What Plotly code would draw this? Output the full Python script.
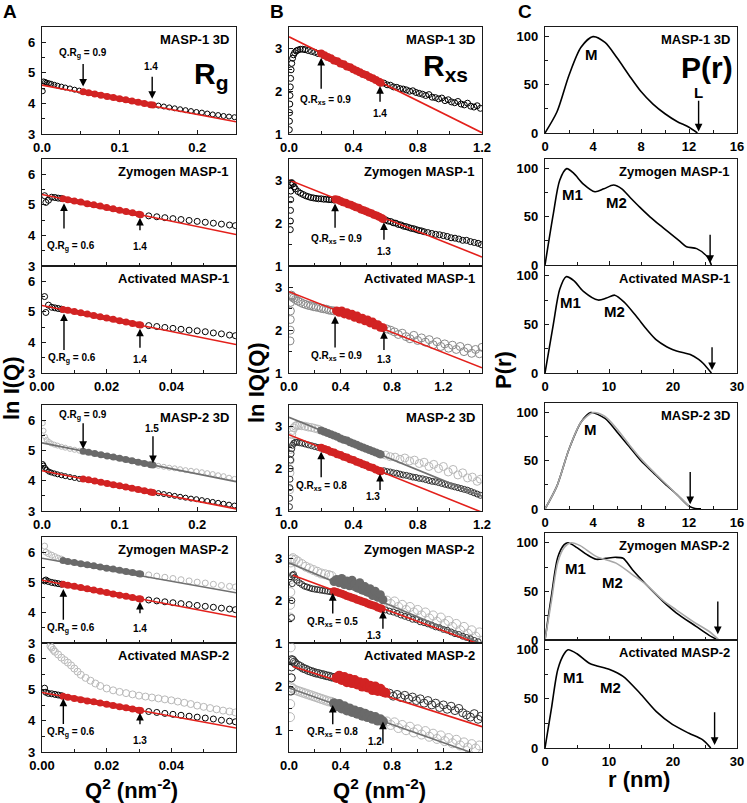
import plotly.graph_objects as go

W, H = 747, 803
FONT = "Liberation Sans"
RED = "#e3201b"
RED_BAND = "#d22323"
GRAY_LINE = "#707070"
GRAY_BAND = "#6a6a6a"
LIGHT = "#b9b9b9"

TITLES = ["MASP-1 3D", "Zymogen MASP-1", "Activated MASP-1",
          "MASP-2 3D", "Zymogen MASP-2", "Activated MASP-2"]

# ---------------- Column A : ln I(Q) vs Q^2 (Rg) ----------------
A_BIG_Q2 = [0.001, 0.002, 0.004, 0.006, 0.009, 0.012, 0.016, 0.020, 0.025, 0.030, 0.036, 0.042, 0.048,
            0.053, 0.060, 0.068, 0.076, 0.084, 0.092, 0.100, 0.108, 0.116, 0.124, 0.132, 0.140, 0.143,
            0.150, 0.157, 0.164, 0.171, 0.178, 0.185, 0.192, 0.199, 0.206, 0.213, 0.220, 0.227, 0.234, 0.241, 0.248]
A_SMALL_Q2 = [0.0008, 0.0012, 0.002, 0.003, 0.004, 0.005, 0.006,
              0.0065, 0.008, 0.010, 0.012, 0.014, 0.016, 0.018, 0.020, 0.022, 0.024, 0.026, 0.028, 0.030, 0.0305,
              0.033, 0.0355, 0.038, 0.0405, 0.043, 0.0455, 0.048, 0.0505, 0.053, 0.0555, 0.058, 0.0598]
A_FIT_BIG = [0.053, 0.143]
A_FIT_SMALL = [0.0065, 0.0305]

A1_BLACK = [4.40, 4.72, 4.70, 4.68, 4.66, 4.64, 4.61, 4.58, 4.55, 4.52, 4.49, 4.45, 4.42,
            4.38, 4.35, 4.31, 4.27, 4.23, 4.19, 4.15, 4.12, 4.08, 4.04, 4.00, 3.96, 3.95,
            3.93, 3.90, 3.87, 3.84, 3.81, 3.78, 3.75, 3.72, 3.70, 3.67, 3.64, 3.62, 3.59, 3.57, 3.55]
A1_LINE = [4.60, 3.40]

A2_BLACK = [5.30, 5.08, 5.15, 5.25, 5.24, 5.22, 5.21,
            5.20, 5.17, 5.13, 5.09, 5.04, 5.00, 4.96, 4.91, 4.87, 4.82, 4.78, 4.74, 4.69, 4.68,
            4.64, 4.61, 4.58, 4.55, 4.52, 4.49, 4.46, 4.43, 4.40, 4.37, 4.34, 4.32]
A2_LINE = [5.34, 4.03]

A3_BLACK = [5.50, 4.98, 5.22, 5.15, 5.13, 5.11, 5.09,
            5.08, 5.05, 5.01, 4.97, 4.93, 4.88, 4.84, 4.80, 4.76, 4.71, 4.67, 4.62, 4.58, 4.57,
            4.55, 4.52, 4.49, 4.46, 4.43, 4.40, 4.38, 4.35, 4.31, 4.28, 4.24, 4.22]
A3_LINE = [5.21, 3.93]

A4_GRAY = [5.90, 5.65, 5.45, 5.35, 5.28, 5.23, 5.19, 5.16, 5.12, 5.09, 5.05, 5.02, 4.99,
           4.97, 4.94, 4.90, 4.86, 4.82, 4.78, 4.74, 4.70, 4.66, 4.61, 4.57, 4.53, 4.52,
           4.49, 4.46, 4.43, 4.41, 4.38, 4.35, 4.33, 4.31, 4.28, 4.25, 4.22, 4.18, 4.15, 4.10, 4.06]
A4_BLACK = [4.55, 4.50, 4.42, 4.36, 4.30, 4.27, 4.24, 4.21, 4.18, 4.15, 4.12, 4.09, 4.06,
            4.06, 4.03, 3.99, 3.95, 3.91, 3.87, 3.83, 3.79, 3.75, 3.71, 3.67, 3.63, 3.61,
            3.59, 3.56, 3.53, 3.50, 3.47, 3.44, 3.41, 3.39, 3.36, 3.33, 3.30, 3.27, 3.24, 3.21, 3.18]
A4_GRAY_LINE = [5.25, 3.97]
A4_RED_LINE = [4.33, 3.07]

A5_GRAY = [6.20, 6.00, 5.95, 5.90, 5.85, 5.80, 5.77,
           5.72, 5.69, 5.66, 5.62, 5.58, 5.55, 5.51, 5.47, 5.44, 5.40, 5.36, 5.33, 5.29, 5.28,
           5.25, 5.21, 5.17, 5.13, 5.09, 5.05, 5.01, 4.98, 4.94, 4.90, 4.87, 4.85]
A5_BLACK = [5.05, 5.08, 5.03, 5.00, 4.98, 4.96, 4.94,
            4.94, 4.91, 4.87, 4.83, 4.79, 4.75, 4.71, 4.67, 4.62, 4.58, 4.54, 4.50, 4.46, 4.45,
            4.42, 4.39, 4.36, 4.33, 4.30, 4.27, 4.24, 4.21, 4.18, 4.15, 4.12, 4.10]
A5_GRAY_LINE = [5.80, 4.66]
A5_RED_LINE = [5.07, 3.86]

A6_BLACK = [5.05, 4.92, 4.88, 4.87, 4.85, 4.83, 4.81,
            4.79, 4.76, 4.72, 4.68, 4.64, 4.61, 4.57, 4.53, 4.49, 4.45, 4.42, 4.38, 4.34, 4.33,
            4.30, 4.27, 4.24, 4.21, 4.18, 4.15, 4.12, 4.09, 4.06, 4.02, 3.99, 3.97]
A6_GRAY_Q2 = [0.0026, 0.003, 0.0035, 0.004, 0.005, 0.006, 0.007, 0.008, 0.009, 0.010, 0.011, 0.012,
              0.0135, 0.015, 0.0165, 0.018, 0.020, 0.022, 0.024, 0.026, 0.028, 0.030, 0.032, 0.034,
              0.036, 0.038, 0.040, 0.042, 0.044, 0.046, 0.048, 0.050, 0.052, 0.054, 0.056, 0.058, 0.0598]
A6_GRAY = [6.40, 6.35, 6.28, 6.22, 6.13, 6.03, 5.95, 5.87, 5.78, 5.68, 5.58, 5.48,
           5.38, 5.29, 5.20, 5.12, 5.04, 4.98, 4.93, 4.89, 4.85, 4.81, 4.78, 4.75,
           4.72, 4.69, 4.66, 4.62, 4.58, 4.54, 4.49, 4.45, 4.41, 4.37, 4.33, 4.30, 4.27]
A6_RED_LINE = [4.91, 3.77]

# ---------------- Column B : ln IQ(Q) vs Q^2 (Rxs) ----------------
B1_Q2 = [0.002, 0.003, 0.004, 0.005, 0.006, 0.008, 0.010, 0.013, 0.017, 0.022, 0.028, 0.035, 0.045, 0.055,
         0.07, 0.085, 0.10, 0.12, 0.14, 0.16, 0.18,
         0.20, 0.22, 0.24, 0.26, 0.28, 0.30, 0.32, 0.34, 0.36, 0.38, 0.40, 0.42, 0.44, 0.46, 0.48, 0.50,
         0.52, 0.54, 0.56, 0.57,
         0.59, 0.61, 0.63, 0.65, 0.67, 0.69, 0.71, 0.73, 0.75, 0.77, 0.79, 0.81, 0.83, 0.85, 0.87, 0.89,
         0.91, 0.93, 0.95, 0.97, 0.99, 1.01, 1.03, 1.05, 1.07, 1.09, 1.11, 1.13, 1.15, 1.17, 1.19]
B1_BLACK = [1.10, 1.30, 1.50, 1.70, 1.90, 2.10, 2.30, 2.50, 2.65, 2.77, 2.85, 2.90, 2.94, 2.96,
            2.98, 2.98, 2.97, 2.95, 2.93, 2.91, 2.88,
            2.88, 2.84, 2.80, 2.77, 2.72, 2.70, 2.65, 2.63, 2.58, 2.56, 2.51, 2.48, 2.44, 2.40, 2.38, 2.33,
            2.30, 2.26, 2.22, 2.20,
            2.19, 2.15, 2.14, 2.10, 2.09, 2.06, 2.05, 2.03, 2.00, 2.01, 1.97, 1.95, 1.93, 1.90, 1.92, 1.86,
            1.85, 1.82, 1.84, 1.78, 1.80, 1.75, 1.73, 1.76, 1.70, 1.68, 1.72, 1.65, 1.63, 1.66, 1.60]
B1_FIT = [0.20, 0.57]
B1_LINE_X = [0.0, 1.2]
B1_LINE = [3.27, 1.03]

B2_Q2 = [0.010, 0.011, 0.012, 0.013, 0.014, 0.016, 0.02, 0.03, 0.04, 0.05, 0.07, 0.09, 0.11, 0.13, 0.15,
         0.17, 0.19, 0.21, 0.23, 0.25, 0.27, 0.29, 0.31, 0.33, 0.35,
         0.36, 0.38, 0.40, 0.42, 0.44, 0.46, 0.48, 0.50, 0.52, 0.54, 0.56, 0.58, 0.60, 0.62, 0.64, 0.66,
         0.68, 0.70, 0.72, 0.73,
         0.75, 0.77, 0.79, 0.81, 0.83, 0.85, 0.87, 0.89, 0.91, 0.93, 0.95, 0.97, 0.99, 1.01, 1.03, 1.05,
         1.08, 1.11, 1.14, 1.17, 1.20, 1.23, 1.26, 1.29, 1.32, 1.35, 1.38, 1.41, 1.44, 1.47, 1.495]
B2_BLACK = [1.85, 2.05, 2.30, 2.55, 2.75, 2.90, 2.95, 2.92, 2.85, 2.80, 2.74, 2.70, 2.67, 2.64, 2.62,
            2.60, 2.59, 2.58, 2.57, 2.57, 2.56, 2.56, 2.55, 2.55, 2.54,
            2.56, 2.55, 2.52, 2.49, 2.48, 2.44, 2.43, 2.40, 2.37, 2.36, 2.32, 2.30, 2.28, 2.25, 2.23, 2.20,
            2.18, 2.15, 2.12, 2.10,
            2.08, 2.05, 2.04, 2.01, 2.00, 1.97, 1.96, 1.93, 1.92, 1.90, 1.88, 1.87, 1.85, 1.83, 1.82, 1.80,
            1.78, 1.76, 1.74, 1.73, 1.71, 1.69, 1.66, 1.65, 1.63, 1.60, 1.60, 1.57, 1.55, 1.53, 1.50]
B2_FIT = [0.36, 0.73]
B2_LINE_X = [0.0, 1.5]
B2_LINE = [3.01, 1.21]

B3_Q2 = [0.008, 0.009, 0.010, 0.011, 0.012, 0.014, 0.018, 0.025, 0.035, 0.05, 0.07, 0.09, 0.11, 0.13, 0.15,
         0.17, 0.19, 0.21, 0.23, 0.25, 0.27, 0.29, 0.31, 0.33, 0.35,
         0.37, 0.39, 0.41, 0.43, 0.45, 0.47, 0.49, 0.51, 0.53, 0.55, 0.57, 0.59, 0.61, 0.63, 0.65, 0.67,
         0.69, 0.71, 0.73,
         0.76, 0.79, 0.82, 0.85, 0.88, 0.91, 0.94, 0.97, 1.00, 1.03, 1.06, 1.09, 1.12, 1.15, 1.18, 1.21,
         1.24, 1.27, 1.30, 1.33, 1.36, 1.39, 1.42, 1.45, 1.48, 1.50]
B3_DATA = [1.75, 2.00, 2.25, 2.45, 2.65, 2.80, 2.82, 2.78, 2.75, 2.72, 2.68, 2.65, 2.62, 2.60, 2.58,
           2.57, 2.55, 2.54, 2.53, 2.51, 2.50, 2.49, 2.47, 2.46, 2.45,
           2.45, 2.42, 2.45, 2.38, 2.41, 2.35, 2.37, 2.30, 2.33, 2.26, 2.28, 2.22, 2.24, 2.17, 2.19, 2.12,
           2.13, 2.07, 2.06,
           2.03, 2.00, 1.96, 1.90, 1.93, 1.85, 1.80, 1.88, 1.76, 1.82, 1.72, 1.78, 1.66, 1.73, 1.62, 1.68,
           1.58, 1.65, 1.55, 1.62, 1.50, 1.58, 1.46, 1.55, 1.45, 1.60]
B3_FIT = [0.37, 0.73]
B3_LINE_X = [0.0, 1.5]
B3_LINE = [2.90, 1.12]

B4_GRAY_Q2 = [0.004, 0.006, 0.008, 0.010, 0.013, 0.017, 0.022, 0.03, 0.04, 0.05, 0.065, 0.08, 0.10, 0.12,
              0.14, 0.16, 0.18,
              0.20, 0.22, 0.24, 0.26, 0.28, 0.30, 0.32, 0.34, 0.36, 0.38, 0.40, 0.42, 0.44, 0.46, 0.48,
              0.50, 0.52, 0.54, 0.56, 0.57,
              0.60, 0.63, 0.66, 0.69, 0.72, 0.75, 0.78, 0.81, 0.84, 0.87, 0.90, 0.93, 0.96, 0.99, 1.02,
              1.05, 1.08, 1.11, 1.14, 1.17, 1.19]
B4_GRAY = [1.50, 1.90, 2.20, 2.45, 2.65, 2.80, 2.90, 2.96, 3.00, 3.02, 3.02, 3.01, 3.00, 2.98,
           2.97, 2.95, 2.93,
           2.90, 2.87, 2.84, 2.81, 2.78, 2.75, 2.71, 2.68, 2.66, 2.62, 2.59, 2.56, 2.53, 2.50, 2.47,
           2.44, 2.41, 2.38, 2.35, 2.33,
           2.32, 2.28, 2.27, 2.22, 2.25, 2.18, 2.20, 2.12, 2.15, 2.05, 2.10, 2.00, 2.05, 1.92, 1.98,
           1.85, 1.90, 1.78, 1.80, 1.70, 1.75]
B4_BLACK_Q2 = [0.003, 0.004, 0.005, 0.006, 0.008, 0.010, 0.013, 0.017, 0.022, 0.03, 0.04, 0.05, 0.065,
               0.08, 0.10, 0.12, 0.14, 0.16, 0.18,
               0.20, 0.22, 0.24, 0.26, 0.28, 0.30, 0.32, 0.34, 0.36, 0.38, 0.40, 0.42, 0.44, 0.46, 0.48,
               0.50, 0.52, 0.54, 0.56, 0.57,
               0.59, 0.61, 0.63, 0.65, 0.67, 0.69, 0.71, 0.73, 0.75, 0.77, 0.79, 0.81, 0.83, 0.85, 0.87,
               0.89, 0.91, 0.93, 0.95, 0.97, 0.99, 1.01, 1.03, 1.05, 1.07, 1.09, 1.11, 1.13, 1.15, 1.17, 1.19]
B4_BLACK = [1.10, 1.30, 1.55, 1.75, 2.00, 2.20, 2.35, 2.47, 2.55, 2.60, 2.62, 2.62, 2.61,
            2.60, 2.58, 2.56, 2.54, 2.52, 2.50,
            2.49, 2.46, 2.44, 2.40, 2.38, 2.34, 2.32, 2.28, 2.26, 2.22, 2.20, 2.16, 2.14, 2.10, 2.08,
            2.04, 2.02, 1.98, 1.95, 1.94,
            1.95, 1.93, 1.92, 1.90, 1.89, 1.87, 1.85, 1.84, 1.82, 1.80, 1.79, 1.77, 1.76, 1.74, 1.72,
            1.70, 1.69, 1.67, 1.65, 1.63, 1.61, 1.59, 1.57, 1.55, 1.53, 1.51, 1.49, 1.46, 1.43, 1.40, 1.37]
B4_FIT = [0.20, 0.57]
B4_LINE_X = [0.0, 1.2]
B4_GRAY_LINE = [3.21, 1.35]
B4_RED_LINE = [2.80, 0.97]

B5_GRAY_Q2 = [0.008, 0.009, 0.010, 0.011, 0.012, 0.014, 0.02, 0.03, 0.05, 0.07, 0.10, 0.13, 0.16, 0.19,
              0.22, 0.25, 0.28, 0.31, 0.33,
              0.35, 0.37, 0.39, 0.41, 0.43, 0.45, 0.47, 0.49, 0.51, 0.53, 0.55, 0.57, 0.59, 0.61, 0.63,
              0.65, 0.67, 0.69, 0.71, 0.73,
              0.76, 0.79, 0.82, 0.85, 0.88, 0.91, 0.94, 0.97, 1.00, 1.03, 1.06, 1.09, 1.12, 1.15, 1.18,
              1.21, 1.24, 1.27, 1.30, 1.33, 1.36, 1.39, 1.42, 1.45, 1.48]
B5_GRAY = [1.60, 1.90, 2.20, 2.50, 2.75, 2.90, 2.97, 3.00, 2.96, 2.92, 2.86, 2.80, 2.76, 2.72,
           2.68, 2.64, 2.62, 2.60, 2.58,
           2.45, 2.50, 2.42, 2.52, 2.38, 2.46, 2.35, 2.48, 2.38, 2.30, 2.42, 2.25, 2.33, 2.20, 2.28,
           2.12, 2.22, 2.08, 2.14, 2.02,
           2.00, 1.92, 1.98, 1.85, 1.90, 1.78, 1.85, 1.72, 1.78, 1.65, 1.72, 1.58, 1.65, 1.50, 1.60,
           1.45, 1.52, 1.38, 1.45, 1.30, 1.38, 1.22, 1.30, 1.15, 1.25]
B5_BLACK_Q2 = [0.020, 0.022, 0.025, 0.028, 0.035, 0.045, 0.06, 0.08, 0.10, 0.12, 0.14, 0.16, 0.18, 0.20,
               0.22, 0.24, 0.26, 0.28, 0.30, 0.32, 0.34,
               0.35, 0.37, 0.39, 0.41, 0.43, 0.45, 0.47, 0.49, 0.51, 0.53, 0.55, 0.57, 0.59, 0.61, 0.63,
               0.65, 0.67, 0.69, 0.71, 0.72,
               0.75, 0.78, 0.81, 0.84, 0.87, 0.90, 0.93, 0.96, 0.99, 1.02, 1.05, 1.08, 1.11, 1.14, 1.17,
               1.20, 1.23, 1.26, 1.29, 1.32, 1.35, 1.38, 1.41, 1.44, 1.47]
B5_BLACK = [1.60, 2.00, 2.40, 2.60, 2.62, 2.55, 2.48, 2.42, 2.38, 2.34, 2.32, 2.30, 2.28, 2.27,
            2.26, 2.25, 2.24, 2.23, 2.22, 2.21, 2.20,
            2.22, 2.20, 2.18, 2.16, 2.14, 2.11, 2.09, 2.07, 2.05, 2.02, 2.00, 1.98, 1.96, 1.93, 1.91,
            1.89, 1.87, 1.84, 1.82, 1.81,
            1.78, 1.75, 1.73, 1.70, 1.66, 1.63, 1.60, 1.56, 1.55, 1.50, 1.48, 1.45, 1.42, 1.38, 1.36,
            1.32, 1.30, 1.26, 1.22, 1.20, 1.16, 1.13, 1.10, 1.06, 1.03]
B5_GRAY_FIT = [0.35, 0.73]
B5_RED_FIT = [0.35, 0.72]
B5_GRAY_LINE_X = [0.0, 1.5]
B5_GRAY_LINE = [2.89, 0.98]
B5_RED_LINE_X = [0.03, 1.5]
B5_RED_LINE = [2.60, 0.95]

B6_BLACK_Q2 = [0.015, 0.018, 0.020, 0.022, 0.03, 0.04, 0.05, 0.07, 0.09, 0.11, 0.13, 0.15, 0.17, 0.19,
               0.21, 0.23, 0.25, 0.27, 0.29, 0.31, 0.33, 0.35,
               0.37, 0.39, 0.41, 0.43, 0.45, 0.47, 0.49, 0.51, 0.53, 0.55, 0.57, 0.59, 0.61, 0.63, 0.65,
               0.67, 0.69, 0.71, 0.73, 0.75,
               0.78, 0.81, 0.84, 0.87, 0.90, 0.93, 0.96, 0.99, 1.02, 1.05, 1.08, 1.11, 1.14, 1.17, 1.20,
               1.23, 1.26, 1.29, 1.32, 1.35, 1.38, 1.41, 1.44, 1.47, 1.49]
B6_BLACK = [1.90, 2.20, 2.45, 2.62, 2.60, 2.56, 2.53, 2.49, 2.46, 2.42, 2.40, 2.37, 2.35, 2.33,
            2.31, 2.30, 2.28, 2.27, 2.25, 2.24, 2.22, 2.21,
            2.20, 2.25, 2.15, 2.22, 2.10, 2.18, 2.08, 2.15, 2.05, 2.10, 2.00, 2.08, 1.98, 2.02, 1.92,
            2.00, 1.90, 1.95, 1.88, 1.86,
            1.85, 1.78, 1.82, 1.75, 1.80, 1.72, 1.76, 1.68, 1.72, 1.62, 1.68, 1.58, 1.62, 1.52, 1.58,
            1.48, 1.55, 1.45, 1.50, 1.40, 1.35, 1.30, 1.38, 1.25, 1.32]
B6_GRAY_Q2 = [0.008, 0.009, 0.010, 0.011, 0.012, 0.013, 0.02, 0.03, 0.05, 0.07, 0.09, 0.11, 0.13, 0.15,
              0.17, 0.19, 0.21, 0.23, 0.25, 0.27, 0.29, 0.31, 0.33,
              0.35, 0.37, 0.39, 0.41, 0.43, 0.45, 0.47, 0.49, 0.51, 0.53, 0.55, 0.57, 0.59, 0.61, 0.63,
              0.65, 0.67, 0.69, 0.71, 0.73,
              0.76, 0.79, 0.82, 0.85, 0.88, 0.91, 0.94, 0.97, 1.00, 1.03, 1.06, 1.09, 1.12, 1.15, 1.18,
              1.21, 1.24, 1.27, 1.30, 1.33, 1.36, 1.39, 1.42, 1.45, 1.48]
B6_GRAY = [1.30, 1.60, 1.90, 2.20, 2.60, 2.90, 1.98, 1.95, 1.92, 1.90, 1.88, 1.86, 1.84, 1.82,
           1.80, 1.78, 1.76, 1.74, 1.72, 1.70, 1.68, 1.66, 1.65,
           1.62, 1.55, 1.60, 1.50, 1.55, 1.45, 1.50, 1.42, 1.45, 1.38, 1.42, 1.33, 1.38, 1.30, 1.33,
           1.26, 1.30, 1.22, 1.25, 1.20,
           1.20, 1.12, 1.18, 1.05, 1.12, 1.00, 1.08, 0.95, 1.02, 0.90, 0.98, 0.85, 0.92, 0.80, 0.88,
           0.75, 0.82, 0.70, 0.78, 0.65, 0.72, 0.60, 0.68, 0.58, 0.65]
B6_RED_FIT = [0.37, 0.75]
B6_GRAY_FIT = [0.35, 0.73]
B6_RED_LINE_X = [0.03, 1.5]
B6_RED_LINE = [2.46, 1.08]
B6_GRAY_LINE_X = [0.0, 1.5]
B6_GRAY_LINE = [1.97, 0.40]

# ---------------- Column C : P(r) curves ----------------
C1_R = [0, 1, 2, 3, 4, 5, 6, 7, 8, 9, 10, 11, 12, 12.7]
C1_P = [0, 22, 60, 89, 100, 94, 78, 60, 43, 30, 20, 12, 6, 0]
C2_R = [0, 1.3, 2.3, 3.4, 4.5, 6, 7.8, 9.2, 10.7, 12, 13.3, 14.8, 16.4, 18, 19.5, 21, 22.1, 23.7, 25.3, 26]
C2_P = [0, 53, 88, 100, 95, 84, 76, 79, 83, 79, 70, 60, 50, 41, 33, 25, 19, 17, 9, 0]
C3_R = [0, 1.3, 2.3, 3.3, 4.5, 6, 8.3, 9.6, 10.9, 12.5, 14.3, 16, 17.4, 19, 20, 21.5, 22.7, 24, 24.7, 26]
C3_P = [0, 50, 86, 99, 95, 84, 75, 77, 80, 72, 58, 44, 34, 27, 24, 21, 19, 14, 10, 0]
C4_BLACK_R = [0, 1, 2, 3, 3.8, 5, 6, 7, 8, 9, 10, 11, 12, 12.5, 13]
C4_BLACK_P = [0, 24, 62, 90, 100, 94, 80, 65, 50, 38, 26, 15, 3, 0.6, 0.3]
C4_GRAY_R = [0, 1, 2, 3, 4, 5, 6, 7, 8, 9, 10, 11, 12]
C4_GRAY_P = [0, 24, 62, 90, 100, 96, 83, 67, 52, 39, 27, 15, 3]
C5_BLACK_R = [0, 1, 2, 3, 3.6, 5, 6.5, 8, 9.5, 11, 12.2, 13.7, 15.8, 18.4, 20.5, 23.6, 25.6, 27]
C5_BLACK_P = [0, 45, 85, 98, 100, 95, 88, 83, 84, 85, 84, 72, 57, 40, 28, 14, 5, 0]
C5_GRAY_R = [0, 1, 2, 3, 4.1, 5.5, 8, 11.1, 13.7, 15.8, 18.4, 20.5, 23.6, 25.6, 27.2]
C5_GRAY_P = [0, 40, 80, 95, 100, 97, 86, 79, 67, 57, 41, 31, 17, 9, 0]
C6_R = [0, 1, 2, 3, 3.6, 5, 7, 10.1, 12.2, 14.8, 17.4, 19.9, 22.5, 24.6, 25.9]
C6_P = [0, 40, 80, 96, 100, 96, 86, 80, 73, 56, 37, 24, 15, 8.5, 0]

# ---------------- layout geometry ----------------
COLS = [(42, 236), (289, 482), (545, 737)]
ROWS_AB = [(27, 134), (159, 266), (266, 373), (405, 511), (537, 643), (643, 752)]
ROWS_C = [(27, 133), (159, 265), (266, 373), (403, 509), (533, 640), (640, 748)]

XR = [[[0, 0.25], [0, 0.06], [0, 0.06], [0, 0.25], [0, 0.06], [0, 0.06]],
      [[0, 1.2], [0, 1.5], [0, 1.5], [0, 1.2], [0, 1.5], [0, 1.5]],
      [[0, 16], [0, 30], [0, 30], [0, 16], [0, 30], [0, 30]]]
YR = [[[3, 6.5]] * 6,
      [[1, 3.5]] * 5 + [[0.5, 3.0]],
      [[0, 110]] * 6]

XTICKS = {
    0.25: ([0, 0.1, 0.2], ["0.0", "0.1", "0.2"], [0.05, 0.15]),
    0.06: ([0, 0.02, 0.04], ["0.00", "0.02", "0.04"], [0.01, 0.03, 0.05]),
    1.2: ([0, 0.4, 0.8, 1.2], ["0.0", "0.4", "0.8", "1.2"], [0.2, 0.6, 1.0]),
    1.5: ([0, 0.4, 0.8, 1.2], ["0.0", "0.4", "0.8", "1.2"], [0.2, 0.6, 1.0, 1.4]),
    16: ([0, 4, 8, 12, 16], ["0", "4", "8", "12", "16"], [2, 6, 10, 14]),
    30: ([0, 10, 20, 30], ["0", "10", "20", "30"], [5, 15, 25]),
}
YTICKS = [
    ([3, 4, 5, 6], [3.5, 4.5, 5.5]),
    ([1, 2, 3], [1.5, 2.5]),
    ([0, 50, 100], [25, 75]),
]

fig = go.Figure()
ann = []


def ref(k, a):
    return a if k == 1 else f"{a}{k}"


def kid(c, r):
    return c * 6 + r + 1


def open_pts(k, xs, ys, color, size, fit=None):
    ox, oy = [], []
    for x, y in zip(xs, ys):
        if fit is None or x < fit[0] or x > fit[1]:
            ox.append(x)
            oy.append(y)
    fig.add_trace(go.Scatter(x=ox, y=oy, mode="markers", xaxis=ref(k, "x"), yaxis=ref(k, "y"),
                             marker=dict(symbol="circle-open", size=size, color=color, line=dict(width=1)),
                             hoverinfo="skip"))


def band(k, xs, ys, fit, color, size, smooth=True):
    bx, by = [], []
    for x, y in zip(xs, ys):
        if fit[0] <= x <= fit[1]:
            bx.append(x)
            by.append(y)
    fig.add_trace(go.Scatter(x=bx, y=by, mode="lines+markers" if smooth else "markers",
                             xaxis=ref(k, "x"), yaxis=ref(k, "y"),
                             line=dict(color=color, width=size - 2),
                             marker=dict(symbol="circle", size=size, color=color),
                             hoverinfo="skip"))


def fitline(k, xs, ys, color):
    fig.add_trace(go.Scatter(x=xs, y=ys, mode="lines", xaxis=ref(k, "x"), yaxis=ref(k, "y"),
                             line=dict(color=color, width=1.6), hoverinfo="skip"))


def curve(k, xs, ys, color):
    fig.add_trace(go.Scatter(x=xs, y=ys, mode="lines", xaxis=ref(k, "x"), yaxis=ref(k, "y"),
                             line=dict(color=color, width=1.6, shape="spline", smoothing=0.8),
                             hoverinfo="skip"))


def arrow(k, x, y_tail, y_head):
    ann.append(dict(xref=ref(k, "x"), yref=ref(k, "y"), axref=ref(k, "x"), ayref=ref(k, "y"),
                    x=x, y=y_head, ax=x, ay=y_tail, text="", showarrow=True,
                    arrowhead=2, arrowsize=1.1, arrowwidth=1.4, arrowcolor="black",
                    standoff=0, startstandoff=0))


def label(k, x, y, text, size=10, anchor="center"):
    ann.append(dict(xref=ref(k, "x"), yref=ref(k, "y"), x=x, y=y, text=text, showarrow=False,
                    xanchor=anchor, yanchor="middle",
                    font=dict(family=FONT, size=size, color="black", weight="bold")))


# ---- Column A traces ----
k = kid(0, 0)
open_pts(k, A_BIG_Q2, A1_BLACK, "black", 5, A_FIT_BIG)
fitline(k, XR[0][0], A1_LINE, RED)
band(k, A_BIG_Q2, A1_BLACK, A_FIT_BIG, RED_BAND, 7)

k = kid(0, 1)
open_pts(k, A_SMALL_Q2, A2_BLACK, "black", 6, A_FIT_SMALL)
fitline(k, XR[0][1], A2_LINE, RED)
band(k, A_SMALL_Q2, A2_BLACK, A_FIT_SMALL, RED_BAND, 7)

k = kid(0, 2)
open_pts(k, A_SMALL_Q2, A3_BLACK, "black", 6, A_FIT_SMALL)
fitline(k, XR[0][2], A3_LINE, RED)
band(k, A_SMALL_Q2, A3_BLACK, A_FIT_SMALL, RED_BAND, 7)

k = kid(0, 3)
open_pts(k, A_BIG_Q2, A4_GRAY, LIGHT, 5, A_FIT_BIG)
open_pts(k, A_BIG_Q2, A4_BLACK, "black", 5, A_FIT_BIG)
fitline(k, XR[0][3], A4_GRAY_LINE, GRAY_LINE)
fitline(k, XR[0][3], A4_RED_LINE, RED)
band(k, A_BIG_Q2, A4_GRAY, A_FIT_BIG, GRAY_BAND, 7)
band(k, A_BIG_Q2, A4_BLACK, A_FIT_BIG, RED_BAND, 7)

k = kid(0, 4)
open_pts(k, A_SMALL_Q2, A5_GRAY, LIGHT, 6, A_FIT_SMALL)
open_pts(k, A_SMALL_Q2, A5_BLACK, "black", 6, A_FIT_SMALL)
fitline(k, XR[0][4], A5_GRAY_LINE, GRAY_LINE)
fitline(k, XR[0][4], A5_RED_LINE, RED)
band(k, A_SMALL_Q2, A5_GRAY, A_FIT_SMALL, GRAY_BAND, 7)
band(k, A_SMALL_Q2, A5_BLACK, A_FIT_SMALL, RED_BAND, 7)

k = kid(0, 5)
open_pts(k, A6_GRAY_Q2, A6_GRAY, LIGHT, 7)
open_pts(k, A_SMALL_Q2, A6_BLACK, "black", 6, A_FIT_SMALL)
fitline(k, XR[0][5], A6_RED_LINE, RED)
band(k, A_SMALL_Q2, A6_BLACK, A_FIT_SMALL, RED_BAND, 7)

# ---- Column B traces ----
k = kid(1, 0)
open_pts(k, B1_Q2, B1_BLACK, "black", 6, B1_FIT)
fitline(k, B1_LINE_X, B1_LINE, RED)
band(k, B1_Q2, B1_BLACK, B1_FIT, RED_BAND, 8)

k = kid(1, 1)
open_pts(k, B2_Q2, B2_BLACK, "black", 6, B2_FIT)
fitline(k, B2_LINE_X, B2_LINE, RED)
band(k, B2_Q2, B2_BLACK, B2_FIT, RED_BAND, 8)

k = kid(1, 2)
open_pts(k, B3_Q2, B3_DATA, "#8a8a8a", 8, B3_FIT)
fitline(k, B3_LINE_X, B3_LINE, RED)
band(k, B3_Q2, B3_DATA, B3_FIT, RED_BAND, 9, smooth=False)

k = kid(1, 3)
open_pts(k, B4_GRAY_Q2, B4_GRAY, LIGHT, 8, B4_FIT)
open_pts(k, B4_BLACK_Q2, B4_BLACK, "#333333", 6, B4_FIT)
fitline(k, B4_LINE_X, B4_GRAY_LINE, GRAY_LINE)
fitline(k, B4_LINE_X, B4_RED_LINE, RED)
band(k, B4_GRAY_Q2, B4_GRAY, B4_FIT, GRAY_BAND, 8)
band(k, B4_BLACK_Q2, B4_BLACK, B4_FIT, RED_BAND, 8)

k = kid(1, 4)
open_pts(k, B5_GRAY_Q2, B5_GRAY, LIGHT, 9, B5_GRAY_FIT)
open_pts(k, B5_BLACK_Q2, B5_BLACK, "#333333", 6, B5_RED_FIT)
fitline(k, B5_GRAY_LINE_X, B5_GRAY_LINE, GRAY_LINE)
fitline(k, B5_RED_LINE_X, B5_RED_LINE, RED)
band(k, B5_GRAY_Q2, B5_GRAY, B5_GRAY_FIT, GRAY_BAND, 9, smooth=False)
band(k, B5_BLACK_Q2, B5_BLACK, B5_RED_FIT, RED_BAND, 8)

k = kid(1, 5)
open_pts(k, B6_GRAY_Q2, B6_GRAY, LIGHT, 9, B6_GRAY_FIT)
open_pts(k, B6_BLACK_Q2, B6_BLACK, "#333333", 8, B6_RED_FIT)
fitline(k, B6_GRAY_LINE_X, B6_GRAY_LINE, GRAY_LINE)
fitline(k, B6_RED_LINE_X, B6_RED_LINE, RED)
band(k, B6_GRAY_Q2, B6_GRAY, B6_GRAY_FIT, GRAY_BAND, 10, smooth=False)
band(k, B6_BLACK_Q2, B6_BLACK, B6_RED_FIT, RED_BAND, 10, smooth=False)

# ---- Column C traces ----
curve(kid(2, 0), C1_R, C1_P, "black")
curve(kid(2, 1), C2_R, C2_P, "black")
curve(kid(2, 2), C3_R, C3_P, "black")
curve(kid(2, 3), C4_BLACK_R, C4_BLACK_P, "black")
curve(kid(2, 3), C4_GRAY_R, C4_GRAY_P, "#a8a8a8")
curve(kid(2, 4), C5_BLACK_R, C5_BLACK_P, "black")
curve(kid(2, 4), C5_GRAY_R, C5_GRAY_P, "#a8a8a8")
curve(kid(2, 5), C6_R, C6_P, "black")

# ---- arrows and labels, column A ----
k = kid(0, 0)
arrow(k, 0.053, 5.34, 4.55); label(k, 0.053, 5.64, "Q.R<sub>g</sub> = 0.9")
arrow(k, 0.142, 4.92, 4.15); label(k, 0.140, 5.22, "1.4")
label(k, 0.218, 4.9, "R<sub>g</sub>", size=30)
k = kid(0, 1)
arrow(k, 0.0068, 4.18, 5.05); label(k, 0.0008, 3.65, "Q.R<sub>g</sub> = 0.6", anchor="left")
arrow(k, 0.0303, 4.12, 4.58); label(k, 0.0303, 3.65, "1.4")
k = kid(0, 2)
arrow(k, 0.0068, 3.70, 4.95); label(k, 0.0012, 3.47, "Q.R<sub>g</sub> = 0.6", anchor="left")
arrow(k, 0.0303, 3.78, 4.45); label(k, 0.0303, 3.45, "1.4")
k = kid(0, 3)
arrow(k, 0.053, 5.95, 5.05); label(k, 0.053, 6.15, "Q.R<sub>g</sub> = 0.9")
arrow(k, 0.143, 5.52, 4.58); label(k, 0.142, 5.72, "1.5")
k = kid(0, 4)
arrow(k, 0.0066, 3.72, 4.78); label(k, 0.0009, 3.48, "Q.R<sub>g</sub> = 0.6", anchor="left")
arrow(k, 0.0303, 3.93, 4.36); label(k, 0.0303, 3.48, "1.4")
k = kid(0, 5)
arrow(k, 0.0066, 3.85, 4.72); label(k, 0.0009, 3.62, "Q.R<sub>g</sub> = 0.6", anchor="left")
arrow(k, 0.0303, 3.84, 4.26); label(k, 0.0303, 3.38, "1.3")

# ---- arrows and labels, column B ----
k = kid(1, 0)
arrow(k, 0.20, 2.02, 2.78); label(k, 0.225, 1.80, "Q.R<sub>xs</sub> = 0.9")
arrow(k, 0.566, 1.72, 2.12); label(k, 0.566, 1.48, "1.4")
label(k, 0.97, 2.55, "R<sub>xs</sub>", size=30)
k = kid(1, 1)
arrow(k, 0.358, 1.86, 2.46); label(k, 0.37, 1.62, "Q.R<sub>xs</sub> = 0.9")
arrow(k, 0.738, 1.58, 2.02); label(k, 0.738, 1.33, "1.3")
k = kid(1, 2)
arrow(k, 0.358, 1.56, 2.33); label(k, 0.37, 1.40, "Q.R<sub>xs</sub> = 0.9")
arrow(k, 0.738, 1.50, 1.98); label(k, 0.738, 1.32, "1.3")
k = kid(1, 3)
arrow(k, 0.20, 1.76, 2.40); label(k, 0.20, 1.60, "Q.R<sub>xs</sub> = 0.8")
arrow(k, 0.566, 1.46, 1.88); label(k, 0.52, 1.34, "1.3")
k = kid(1, 4)
arrow(k, 0.34, 1.66, 2.18); label(k, 0.34, 1.50, "Q.R<sub>xs</sub> = 0.5")
arrow(k, 0.73, 1.30, 1.76); label(k, 0.66, 1.18, "1.3")
k = kid(1, 5)
arrow(k, 0.34, 1.10, 1.58); label(k, 0.34, 0.96, "Q.R<sub>xs</sub> = 0.8")
arrow(k, 0.73, 0.66, 1.20); label(k, 0.67, 0.75, "1.2")

# ---- arrows and labels, column C ----
k = kid(2, 0)
label(k, 3.9, 81, "M", size=15); label(k, 12.75, 42, "L", size=15)
arrow(k, 12.8, 35, 1.5)
label(k, 13.5, 68, "P(r)", size=30)
k = kid(2, 1)
label(k, 4.3, 73, "M1", size=15); label(k, 11.2, 65, "M2", size=15)
arrow(k, 25.8, 33, 2)
k = kid(2, 2)
label(k, 4.0, 72, "M1", size=15); label(k, 10.9, 63, "M2", size=15)
arrow(k, 26.1, 28, 3)
k = kid(2, 3)
label(k, 3.75, 82, "M", size=15)
arrow(k, 12.1, 40, 5)
k = kid(2, 4)
label(k, 4.7, 73, "M1", size=15); label(k, 10.6, 59, "M2", size=15)
arrow(k, 27.0, 41, 6)
k = kid(2, 5)
label(k, 4.4, 72, "M1", size=15); label(k, 10.2, 62, "M2", size=15)
arrow(k, 26.5, 38, 3)

# ---- axes ----
axes = {}
tickfont = dict(family=FONT, size=13, color="black", weight="bold")
for c in range(3):
    rows = ROWS_C if c == 2 else ROWS_AB
    for r in range(6):
        k = kid(c, r)
        x0, x1 = COLS[c]
        y0, y1 = rows[r]
        xr = XR[c][r]
        tv, tt, mv = XTICKS[xr[1]]
        ytv, ymv = YTICKS[c]
        if c == 1 and r == 5:
            ytv, ymv = [1, 2], [1.5, 2.5]
        common = dict(showline=True, linecolor="#1a1a1a", linewidth=1.3, mirror=True,
                      ticks="inside", ticklen=4, tickwidth=1.1, tickcolor="#1a1a1a",
                      showgrid=False, zeroline=False, tickfont=tickfont, fixedrange=True,
                      automargin=False)
        axes["xaxis" if k == 1 else f"xaxis{k}"] = dict(
            domain=[x0 / W, x1 / W], anchor=ref(k, "y"), range=xr,
            tickmode="array", tickvals=tv, ticktext=tt,
            minor=dict(tickmode="array", tickvals=mv, ticks="inside", ticklen=2.5, tickcolor="#1a1a1a"),
            showticklabels=r not in (1, 4), ticklabelstandoff=1, **common)
        axes["yaxis" if k == 1 else f"yaxis{k}"] = dict(
            domain=[1 - y1 / H, 1 - y0 / H], anchor=ref(k, "x"), range=YR[c][r],
            tickmode="array", tickvals=ytv, ticktext=[str(v) for v in ytv],
            minor=dict(tickmode="array", tickvals=ymv, ticks="inside", ticklen=2.5, tickcolor="#1a1a1a"),
            ticklabelstandoff=3, **common)
        # panel title
        ann.append(dict(xref="paper", yref="paper", x=(x1 - 5) / W, y=1 - (y0 + 3) / H,
                        text=TITLES[r], showarrow=False, xanchor="right", yanchor="top",
                        font=dict(family=FONT, size=13, color="black", weight="bold")))


# ---- figure-level texts ----
def ptext(x, y, text, size, angle=0):
    ann.append(dict(xref="paper", yref="paper", x=x / W, y=1 - y / H, text=text, showarrow=False,
                    xanchor="center", yanchor="middle", textangle=angle,
                    font=dict(family=FONT, size=size, color="black", weight="bold")))


ptext(10, 11, "A", 19)
ptext(277, 11, "B", 19)
ptext(525, 11, "C", 19)
ptext(12, 388, "ln I(Q)", 22, -90)
ptext(256, 383, "ln IQ(Q)", 22, -90)
ptext(503, 370, "P(r)", 22, -90)
ptext(131, 789, "Q<sup>2</sup> (nm<sup>-2</sup>)", 22)
ptext(379, 789, "Q<sup>2</sup> (nm<sup>-2</sup>)", 22)
ptext(639, 779, "r (nm)", 22)

fig.update_layout(width=W, height=H, margin=dict(l=0, r=0, t=0, b=0, autoexpand=False), showlegend=False,
                  plot_bgcolor="white", paper_bgcolor="white", annotations=ann,
                  font=dict(family=FONT, color="black"), **axes)

fig.write_html("out.html", config={"displayModeBar": False},
               post_script="document.body.style.margin='0';document.body.style.overflow='hidden';")
